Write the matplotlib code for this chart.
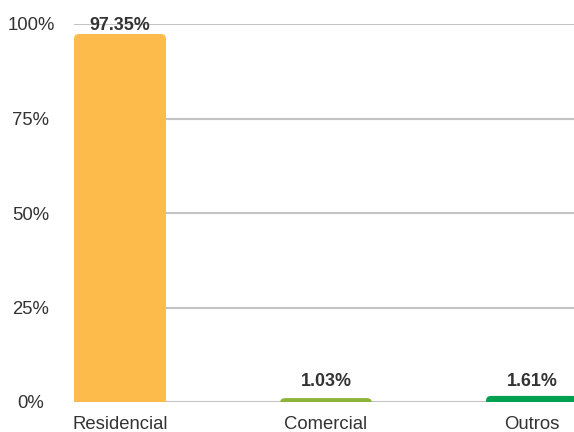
import matplotlib
matplotlib.use("Agg")
import matplotlib.pyplot as plt
from matplotlib.patches import FancyBboxPatch
import numpy as np

categories = ["Residencial", "Comercial", "Outros"]
values = [97.35, 1.03, 1.61]
labels = ["97.35%", "1.03%", "1.61%"]
colors = ["#FDBB4B", "#8DB33B", "#00A051"]
yticks = [0, 25, 50, 75, 100]
yticklabels = ["0%", "25%", "50%", "75%", "100%"]

plt.rcParams['font.family'] = ['Liberation Sans', 'DejaVu Sans']

fig = plt.figure(figsize=(5.74, 4.32), dpi=100)
ax = fig.add_axes([74/574, 1 - 402/432, 1 - 74/574, (402 - 24)/432])

x = np.arange(len(categories))
width = 92/206
ax.set_xlim(-width/2, (574 - 120)/206)
ax.set_ylim(0, 100)

# invisible bars for structure
bars = ax.bar(x, values, width=width, color=colors, alpha=0)

ry_px = 5.0
ax_h_px = 378.0
ax_w_px = 500.0
xr = (ax.get_xlim()[1] - ax.get_xlim()[0])
rx = ry_px * xr / ax_w_px
ry = ry_px * 100 / ax_h_px
for xi, v, c in zip(x, values, colors):
    p = FancyBboxPatch((xi - width/2, -ry), width, v + ry,
                       boxstyle=f"round,pad=0,rounding_size={rx}",
                       mutation_aspect=ry/rx, facecolor=c, edgecolor='none',
                       zorder=2)
    ax.add_patch(p)

label_y = np.clip(np.array(values) + 2.5, 5.4, 99.5)
for xi, ly, t in zip(x, label_y, labels):
    ax.text(xi, ly, t, ha='center', va='center', fontsize=12.9,
            fontweight='bold', color='#333333', zorder=3)

ax.set_yticks(yticks)
ax.set_yticklabels(yticklabels)
ax.set_xticks(x)
ax.set_xticklabels(categories)
ax.grid(axis='y', color='#C4C4C4', linewidth=1.5, zorder=0)
ax.set_axisbelow(True)
for s in ax.spines.values():
    s.set_visible(False)
ax.tick_params(axis='y', length=0, pad=31, labelsize=13.3, labelcolor='#333333')
ax.tick_params(axis='x', length=0, pad=10, labelsize=13.3, labelcolor='#333333')
for lbl in ax.get_yticklabels():
    lbl.set_horizontalalignment('center')

fig.savefig("out.png", dpi=100)
